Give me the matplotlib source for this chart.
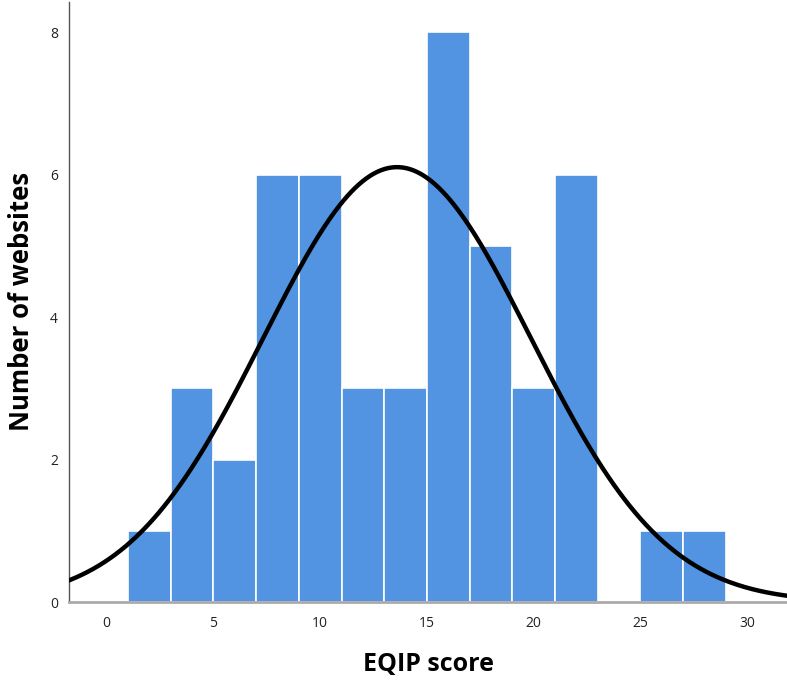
import numpy as np
import matplotlib
matplotlib.use("Agg")
import matplotlib.pyplot as plt

# histogram of EQIP scores (bin width 2, starting at 1)
bin_edges = [1, 3, 5, 7, 9, 11, 13, 15, 17, 19, 21, 23, 25, 27, 29]
counts = [1, 3, 2, 6, 6, 3, 3, 8, 5, 3, 6, 0, 1, 1]

# fitted normal curve
curve_mean = 13.6
curve_sd = 6.27

x_ticks = [0, 5, 10, 15, 20, 25, 30]
y_ticks = [0, 2, 4, 6, 8]

plt.rcParams['font.family'] = ['Open Sans', 'DejaVu Sans']

fig = plt.figure(figsize=(7.87, 6.82), dpi=100)
ax = fig.add_axes([0.0877, 0.1173, 0.9123, 0.880])

widths = np.diff(bin_edges)
ax.bar(bin_edges[:-1], counts, width=widths, align='edge',
       color='#5294E2', edgecolor='white', linewidth=1.2, zorder=2)

n_total = sum(counts)
bw = widths[0]
xs = np.linspace(-2, 32, 400)
ys = n_total * bw / (curve_sd * np.sqrt(2 * np.pi)) * np.exp(-0.5 * ((xs - curve_mean) / curve_sd) ** 2)
ax.plot(xs, ys, color='black', linewidth=3.2, zorder=3)

ax.set_xlim(-1.76, 31.86)
ax.set_ylim(0, 8.43)
ax.set_xticks(x_ticks)
ax.set_yticks(y_ticks)
ax.tick_params(length=0, labelsize=10, colors='#222222', pad=8)
ax.tick_params(axis='x', pad=10)

for s in ['top', 'right']:
    ax.spines[s].set_visible(False)
ax.spines['left'].set_color('#555555')
ax.spines['left'].set_linewidth(1.0)
ax.spines['bottom'].set_color('#aaaaaa')
ax.spines['bottom'].set_linewidth(2.0)

ax.set_xlabel('EQIP score', fontsize=18, fontweight='bold', labelpad=15)
ax.set_ylabel('Number of websites', fontsize=18.5, fontweight='bold', labelpad=11)

fig.savefig('out.png', dpi=100)
